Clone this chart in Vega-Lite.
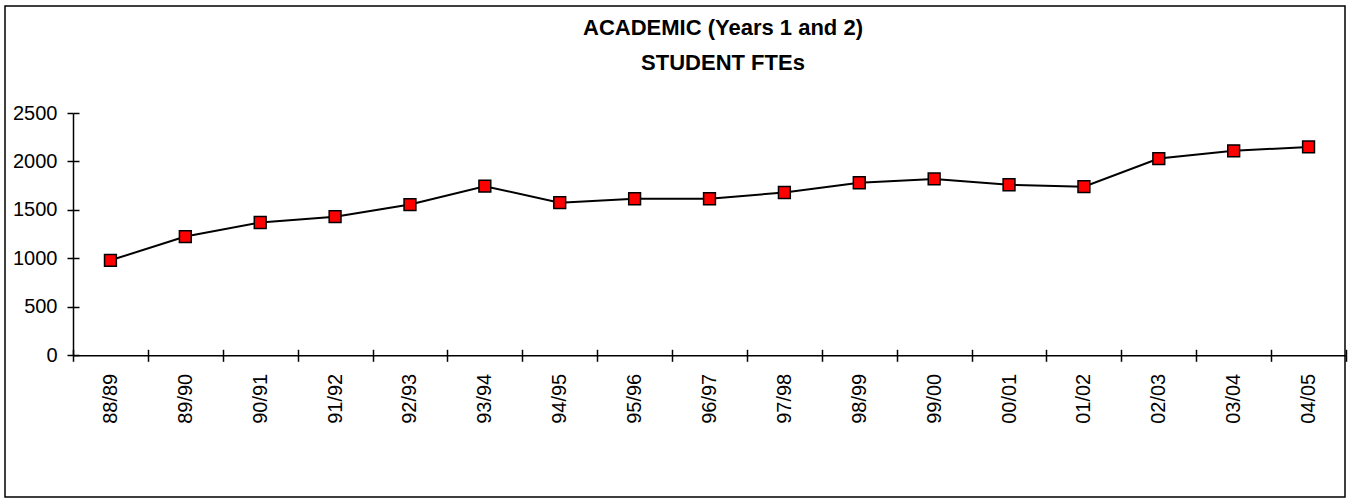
{
  "$schema": "https://vega.github.io/schema/vega-lite/v6.json",
  "width": 1340,
  "height": 491,
  "autosize": {"type": "none"},
  "padding": {"left": 5, "top": 6, "right": 6, "bottom": 5},
  "background": "white",
  "config": {
    "view": {"stroke": "black", "strokeWidth": 1.5},
    "font": "Liberation Sans"
  },
  "title": {
    "text": ["ACADEMIC (Years 1 and 2)", "STUDENT FTEs"],
    "fontSize": 22,
    "font": "Liberation Sans",
    "fontWeight": "bold",
    "color": "black",
    "anchor": "middle",
    "frame": "group",
    "dx": 48,
    "offset": -69,
    "lineHeight": 35
  },
  "data": {
    "values": [
      {"year": "88/89", "fte": 980},
      {"year": "89/90", "fte": 1225},
      {"year": "90/91", "fte": 1370},
      {"year": "91/92", "fte": 1430},
      {"year": "92/93", "fte": 1555},
      {"year": "93/94", "fte": 1745},
      {"year": "94/95", "fte": 1575},
      {"year": "95/96", "fte": 1615},
      {"year": "96/97", "fte": 1615},
      {"year": "97/98", "fte": 1680},
      {"year": "98/99", "fte": 1780},
      {"year": "99/00", "fte": 1820},
      {"year": "00/01", "fte": 1760},
      {"year": "01/02", "fte": 1740},
      {"year": "02/03", "fte": 2030},
      {"year": "03/04", "fte": 2110},
      {"year": "04/05", "fte": 2150}
    ]
  },
  "layer": [
    {
      "mark": {"type": "line", "color": "black", "strokeWidth": 2},
      "encoding": {
        "x": {
          "field": "year", "type": "ordinal", "sort": null,
          "scale": {"type": "band", "range": [68, 1341], "paddingInner": 0, "paddingOuter": 0},
          "axis": {
            "orient": "bottom", "offset": -141.7, "title": null,
            "labelAngle": -90, "labelAlign": "right", "labelBaseline": "middle",
            "labelFontSize": 20, "labelFont": "Liberation Sans", "labelColor": "black",
            "labelPadding": 12, "tickBand": "extent", "tickSize": 6,
            "tickColor": "black", "tickWidth": 1.5, "domainColor": "black", "domainWidth": 1.5,
            "grid": false
          }
        },
        "y": {
          "field": "fte", "type": "quantitative",
          "scale": {"domain": [0, 2500], "range": [349.3, 107], "nice": false},
          "axis": {
            "orient": "left", "offset": -68, "title": null, "format": "d",
            "values": [0, 500, 1000, 1500, 2000, 2500],
            "labelFontSize": 20, "labelFont": "Liberation Sans", "labelColor": "black",
            "labelPadding": 10, "tickSize": 6, "tickColor": "black", "tickWidth": 1.5,
            "domainColor": "black", "domainWidth": 1.5, "grid": false
          }
        }
      }
    },
    {
      "mark": {"type": "point", "shape": "square", "filled": true, "fill": "#ff0000", "stroke": "black", "strokeWidth": 1.5, "size": 140, "opacity": 1},
      "encoding": {
        "x": {
          "field": "year", "type": "ordinal", "sort": null,
          "axis": {
            "orient": "bottom", "offset": -141.7, "title": null, "labels": false, "domain": false,
            "tickBand": "extent", "tickSize": -6, "tickColor": "black", "tickWidth": 1.5, "grid": false
          }
        },
        "y": {
          "field": "fte", "type": "quantitative",
          "axis": {
            "orient": "left", "offset": -68, "title": null, "labels": false, "domain": false,
            "values": [0, 500, 1000, 1500, 2000, 2500],
            "tickSize": -6, "tickColor": "black", "tickWidth": 1.5, "grid": false
          }
        }
      }
    }
  ],
  "resolve": {"axis": {"x": "independent", "y": "independent"}}
}
